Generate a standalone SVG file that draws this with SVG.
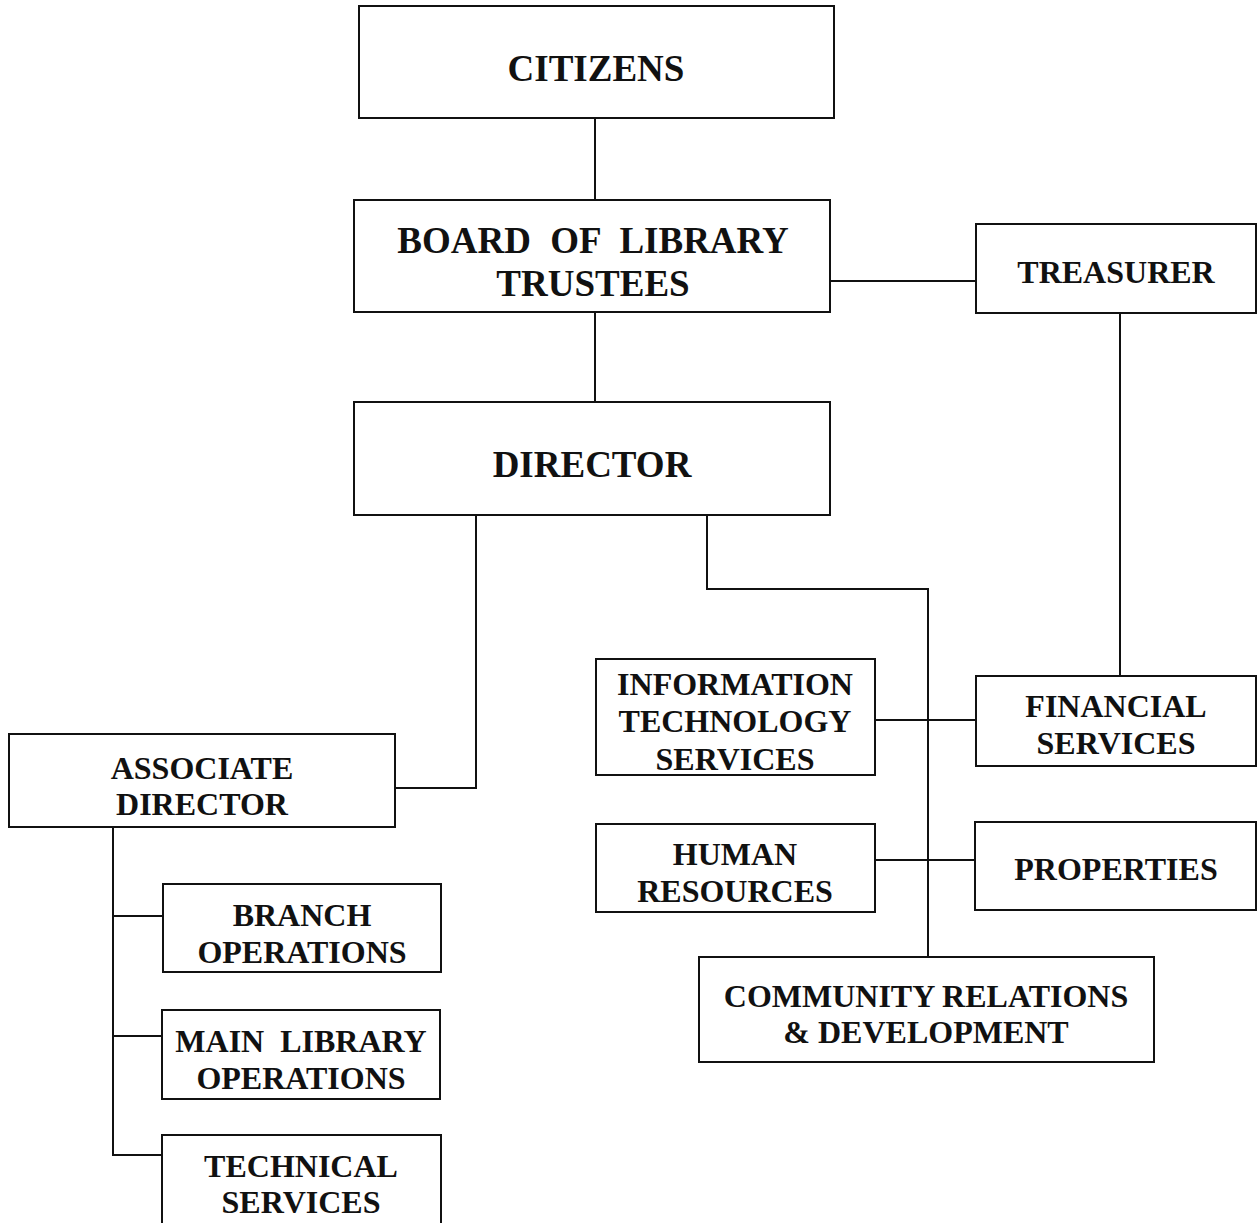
<svg xmlns="http://www.w3.org/2000/svg" width="1259" height="1223" viewBox="0 0 1259 1223">
<style>
rect{fill:#fff;stroke:#111;stroke-width:2}
text{font-family:"Liberation Serif","Times New Roman",serif;font-weight:bold;fill:#111;text-anchor:middle;font-size:32px}
.big{font-size:37px}
#connectors path,#connectors line{stroke:#111;stroke-width:2;fill:none}
</style>
<rect x="0" y="0" width="1259" height="1223" style="fill:#fff;stroke:none"/>
<g id="connectors">
<line x1="595" y1="118" x2="595" y2="200"/>
<line x1="595" y1="312" x2="595" y2="402"/>
<line x1="830" y1="281" x2="976" y2="281"/>
<line x1="1120" y1="313" x2="1120" y2="676"/>
<path d="M476 515 V788 H395"/>
<path d="M707 515 V589 H928 V957"/>
<line x1="875" y1="720" x2="976" y2="720"/>
<line x1="875" y1="860" x2="975" y2="860"/>
<path d="M113 827 V1155 H162"/>
<line x1="113" y1="916" x2="163" y2="916"/>
<line x1="113" y1="1036" x2="162" y2="1036"/>
</g>
<g id="citizens"><rect x="359" y="6" width="475" height="112"/><text class="big" x="596" y="81">CITIZENS</text></g>
<g id="board"><rect x="354" y="200" width="476" height="112"/><text class="big" x="593" y="253" style="word-spacing:10px">BOARD OF LIBRARY</text><text class="big" x="593" y="296">TRUSTEES</text></g>
<g id="treasurer"><rect x="976" y="224" width="280" height="89"/><text x="1116" y="283">TREASURER</text></g>
<g id="director"><rect x="354" y="402" width="476" height="113"/><text class="big" x="592" y="477">DIRECTOR</text></g>
<g id="it"><rect x="596" y="659" width="279" height="116"/><text x="735" y="695">INFORMATION</text><text x="735" y="732">TECHNOLOGY</text><text x="735" y="770">SERVICES</text></g>
<g id="financial"><rect x="976" y="676" width="280" height="90"/><text x="1116" y="717">FINANCIAL</text><text x="1116" y="754">SERVICES</text></g>
<g id="hr"><rect x="596" y="824" width="279" height="88"/><text x="735" y="865">HUMAN</text><text x="735" y="902">RESOURCES</text></g>
<g id="properties"><rect x="975" y="822" width="281" height="88"/><text x="1116" y="880">PROPERTIES</text></g>
<g id="community"><rect x="699" y="957" width="455" height="105"/><text x="926" y="1007">COMMUNITY RELATIONS</text><text x="926" y="1043">&amp; DEVELOPMENT</text></g>
<g id="associate"><rect x="9" y="734" width="386" height="93"/><text x="202" y="779">ASSOCIATE</text><text x="202" y="815">DIRECTOR</text></g>
<g id="branch"><rect x="163" y="884" width="278" height="88"/><text x="302" y="926">BRANCH</text><text x="302" y="963">OPERATIONS</text></g>
<g id="main"><rect x="162" y="1010" width="278" height="89"/><text x="301" y="1052" style="word-spacing:8px">MAIN LIBRARY</text><text x="301" y="1089">OPERATIONS</text></g>
<g id="technical"><rect x="162" y="1135" width="279" height="100"/><text x="301" y="1177">TECHNICAL</text><text x="301" y="1213">SERVICES</text></g>
</svg>
